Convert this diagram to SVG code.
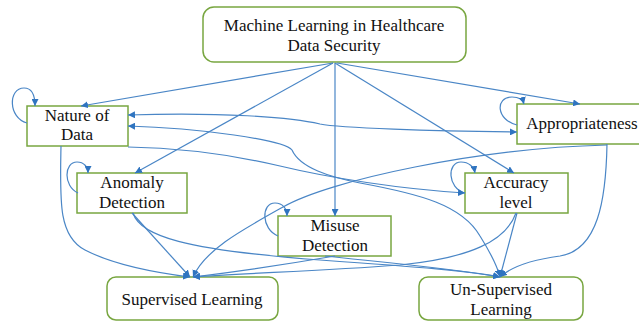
<svg xmlns="http://www.w3.org/2000/svg" width="639" height="322" viewBox="0 0 639 322">
<defs>
<style>
.box{fill:#fff;stroke:#78a640;stroke-width:1.5}
.t{font-family:'Liberation Serif','Times New Roman','DejaVu Serif',serif;font-size:17px;fill:#111;text-anchor:middle}
.c{fill:none;stroke:#4a86c6;stroke-width:1.2}
.a{marker-end:url(#ah)}
.b{marker-start:url(#ah);marker-end:url(#ah)}
</style>
<marker id="ah" viewBox="0 0 10 10" refX="10" refY="5" markerWidth="7" markerHeight="7" markerUnits="userSpaceOnUse" orient="auto-start-reverse">
<path d="M0,0 L10,5 L0,10 z" fill="#2f74c0"/>
</marker>
</defs>
<rect width="639" height="322" fill="#fff"/>
<g id="ml-healthcare">
<rect class="box" x="203" y="7" width="263" height="55" rx="11"/>
<text class="t" font-family="Liberation Serif, serif" x="334" y="31">Machine Learning in Healthcare</text>
<text class="t" font-family="Liberation Serif, serif" x="334" y="51">Data Security</text>
</g>
<g id="nature-of-data">
<rect class="box" x="27" y="106" width="101" height="40"/>
<text class="t" font-family="Liberation Serif, serif" x="77" y="121">Nature of</text>
<text class="t" font-family="Liberation Serif, serif" x="77" y="140">Data</text>
</g>
<g id="appropriateness">
<rect class="box" x="517" y="104" width="130" height="40"/>
<text class="t" font-family="Liberation Serif, serif" x="582" y="129">Appropriateness</text>
</g>
<g id="anomaly-detection">
<rect class="box" x="77" y="173" width="110" height="40"/>
<text class="t" font-family="Liberation Serif, serif" x="132" y="188">Anomaly</text>
<text class="t" font-family="Liberation Serif, serif" x="132" y="208">Detection</text>
</g>
<g id="accuracy-level">
<rect class="box" x="465" y="173" width="103" height="40"/>
<text class="t" font-family="Liberation Serif, serif" x="516" y="188">Accuracy</text>
<text class="t" font-family="Liberation Serif, serif" x="516" y="208">level</text>
</g>
<g id="misuse-detection">
<rect class="box" x="278" y="216" width="113" height="40"/>
<text class="t" font-family="Liberation Serif, serif" x="335" y="231">Misuse</text>
<text class="t" font-family="Liberation Serif, serif" x="335" y="251">Detection</text>
</g>
<g id="supervised-learning">
<rect class="box" x="107" y="277" width="171" height="43" rx="9"/>
<text class="t" font-family="Liberation Serif, serif" x="192" y="305">Supervised Learning</text>
</g>
<g id="unsupervised-learning">
<rect class="box" x="419" y="277" width="164" height="43" rx="9"/>
<text class="t" font-family="Liberation Serif, serif" x="501" y="295">Un-Supervised</text>
<text class="t" font-family="Liberation Serif, serif" x="501" y="315">Learning</text>
</g>
<g id="connectors">
<path class="c a" d="M333,63 L81,106"/>
<path class="c a" d="M333,63 L135,173"/>
<path class="c a" d="M335,63 L335,216"/>
<path class="c a" d="M335,63 L514,173"/>
<path class="c a" d="M337,63 L580,104"/>
<path class="c a" d="M27,123 C8,118 8,88 24,88 C32,88 35,96 35,106"/>
<path class="c a" d="M78,193 C63,186 64,162 77,162 C84,162 88,167 88,173"/>
<path class="c a" d="M278,236 C261,229 261,203 275,203 C283,203 287,209 287,216"/>
<path class="c a" d="M465,193 C447,188 447,162 461,162 C469,162 474,167 475,173"/>
<path class="c a" d="M517,125 C496,120 495,97 512,97 C519,97 523,100 524,104"/>
<path class="c b" d="M128,115 C220,112 290,117 320,124 C340,128 430,131 517,132"/>
<path class="c b" d="M128,126 C200,128 284,140 292,150 C300,168 330,177 360,183 C420,194 462,205 480,236 C490,252 497,265 500,277"/>
<path class="c a" d="M128,147 C180,148 225,153 280,166 C330,178 400,189 465,193"/>
<path class="c a" d="M61,146 C60,200 58,236 85,250 C112,264 150,272 190,277"/>
<path class="c a" d="M132,213 L190,277"/>
<path class="c a" d="M133,213 C140,236 185,250 320,260 C420,267 470,271 500,277"/>
<path class="c a" d="M335,256 C300,262 250,270 193,277"/>
<path class="c a" d="M325,256 C380,262 450,268 500,277"/>
<path class="c a" d="M517,213 L500,277"/>
<path class="c a" d="M516,213 C506,241 470,258 400,265 C320,271 250,273 193,277"/>
<path class="c a" d="M607,144 C606,200 598,250 560,256 C530,260 510,268 500,277"/>
<path class="c a" d="M607,145 C480,148 330,180 283,207 C240,231 205,250 193,277"/>
</g>
</svg>
